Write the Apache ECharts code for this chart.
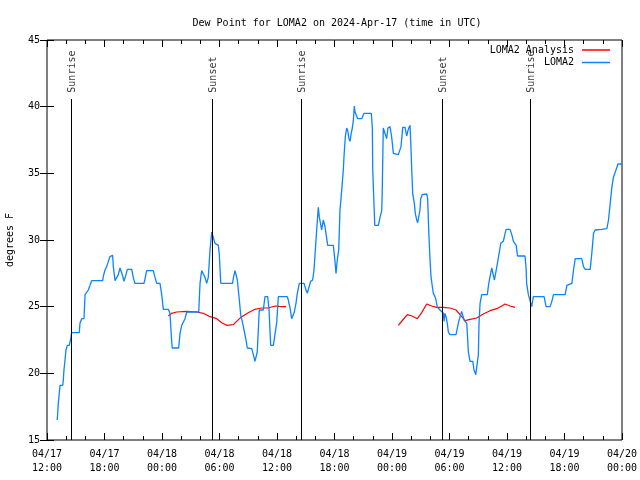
<!DOCTYPE html>
<html>
<head>
<meta charset="utf-8">
<script src="https://cdn.jsdelivr.net/npm/echarts@6/dist/echarts.min.js"></script>
<style>html,body{margin:0;padding:0;background:#fff;}#c{width:640px;height:480px;}</style>
</head>
<body>
<div id="c"></div>
<script>
// Hours since 04/17 12:00 UTC
var xTickLabels = ['04/17\n12:00','04/17\n18:00','04/18\n00:00','04/18\n06:00','04/18\n12:00','04/18\n18:00','04/19\n00:00','04/19\n06:00','04/19\n12:00','04/19\n18:00','04/20\n00:00'];

var lomaTimes = [1.07,1.18,1.36,1.64,1.70,1.77,1.88,1.98,2.12,2.33,2.47,2.58,3.37,3.44,3.62,3.86,3.97,4.14,4.31,4.49,4.66,5.81,5.87,6.05,6.23,6.40,6.57,6.65,6.85,6.92,7.10,7.27,7.44,7.62,7.79,7.90,8.03,8.24,8.38,8.84,9.00,9.18,10.12,10.26,10.40,11.09,11.27,11.45,11.79,11.97,12.14,12.66,12.76,12.83,13.01,13.07,13.74,13.88,14.06,14.22,14.40,14.58,15.83,15.97,16.14,16.31,16.49,16.66,16.83,17.01,17.19,17.35,17.53,17.88,17.98,18.13,19.36,19.46,19.62,19.79,19.86,20.07,20.21,20.42,20.56,20.77,20.90,21.36,21.53,21.70,21.88,21.94,22.05,22.15,22.57,22.75,23.03,23.17,23.34,23.62,23.79,23.97,24.14,25.07,25.18,25.36,25.53,25.64,25.81,25.98,26.12,26.33,26.82,27.03,27.16,27.31,27.51,27.72,27.86,28.00,28.14,28.31,28.41,28.66,28.83,29.01,29.11,29.29,29.88,30.05,30.16,30.29,30.44,30.57,30.68,30.86,30.92,30.99,31.13,31.27,31.38,31.51,31.62,31.72,31.86,31.97,32.07,32.14,32.25,32.42,32.84,33.08,33.84,33.95,33.99,34.13,34.20,34.58,34.75,34.93,34.99,35.09,35.27,35.44,35.58,35.79,35.97,36.14,36.66,36.83,36.94,37.12,37.36,37.53,37.70,37.88,37.95,38.06,38.16,38.33,38.43,38.58,38.68,38.85,38.92,38.99,39.16,39.62,39.72,39.83,39.97,40.07,40.21,40.31,40.49,40.59,40.73,41.01,41.19,41.36,41.43,41.53,41.64,41.77,41.88,42.05,42.68,42.92,43.10,43.27,43.38,43.52,43.62,43.80,43.97,44.14,44.43,44.56,44.74,44.91,45.01,45.08,45.19,45.36,45.95,46.05,46.16,46.30,46.41,46.58,46.69,46.86,47.00,47.20,47.35,47.62,47.80,47.91,48.32,48.50,48.67,48.96,49.10,49.88,49.99,50.05,50.23,50.40,50.58,50.75,51.87,52.08,52.50,52.68,52.85,54.07,54.25,54.42,54.77,54.94,55.12,55.80,55.98,56.16,56.68,56.85,57.03,57.20,57.90,58.42,58.59,58.77,58.95,59.12,59.30,59.58,60.00];
var lomaValues = [16.5,17.75,19.1,19.1,19.5,20.25,21,21.75,22.1,22.1,22.6,23.05,23.05,23.75,24.1,24.1,25.9,25.9,26.25,26.6,26.95,26.95,27.25,27.75,28,28.4,28.75,28.85,28.85,28.0,26.95,26.95,27.4,27.9,27.9,27.3,26.9,27.4,27.8,27.8,27.2,26.75,26.75,27.2,27.7,27.7,27.2,26.75,26.75,25.9,24.8,24.8,24.9,24.5,22.4,21.9,21.9,23.0,23.6,23.75,24.1,24.6,24.6,26.75,27.7,27.7,27.2,26.75,27.2,29.25,30.6,30.55,29.75,29.6,28.9,26.75,26.75,27.2,27.7,27.7,27.0,25.5,24.4,23.75,23.25,22.5,21.9,21.85,21.4,20.9,20.9,21.6,23.25,24.75,24.75,25.75,25.75,24.75,22.1,22.1,22.25,23.8,25.75,25.75,25.5,24.9,24.1,24.0,24.6,25.25,26.0,26.75,26.75,26.25,26.0,26.4,26.9,27.0,27.75,29.25,30.75,32.45,31.75,30.75,31.5,31.0,30.5,29.6,29.6,28.4,27.5,28.5,29.25,32.25,33.1,33.1,35.25,36.25,37.75,38.4,38.2,37.6,37.4,37.9,38.4,39.0,40.05,39.6,39.6,39.1,39.1,39.5,39.5,38.4,35.25,32.5,31.1,31.1,31.7,32.2,34.0,38.4,38.3,37.6,38.4,38.5,37.7,36.5,36.4,36.5,37.0,38.45,38.45,37.8,38.3,38.6,37.5,35.25,33.5,32.75,32.0,31.5,31.3,31.3,32.25,33.1,33.4,33.45,33.1,30.75,28.5,27.25,26.5,26.0,25.75,25.5,24.95,24.75,24.8,24.5,23.9,24.5,24.25,23.75,23.1,22.9,22.9,23.75,24.25,24.65,24.75,24.0,23.9,23.75,21.6,20.9,20.9,20.25,19.9,19.9,21.4,23.75,25.25,25.9,25.9,26.5,27.0,27.5,27.9,27.9,27.0,27.0,28.25,29.1,29.75,29.9,30.5,30.8,30.8,30.4,29.9,29.6,28.8,28.8,27.9,26.75,25.9,25.75,25.0,25.75,25.75,25.0,25.0,25.4,25.9,25.9,26.6,26.75,26.75,27.75,28.6,28.6,28.0,27.8,27.8,29.0,30.5,30.75,30.8,30.85,31.5,32.75,34.0,34.75,35.1,35.7,35.7];

// Analysis: two segments separated by a gap (null)
var analysisTimes = [12.66,13.01,13.53,14.58,15.62,16.31,17.01,17.71,18.23,18.75,19.44,19.79,20.32,21.00,21.70,22.40,23.09,23.79,24.49,24.94,30.0,36.66,37.12,37.60,38.09,38.64,39.10,39.62,40.14,40.66,41.35,42.05,42.68,43.10,43.62,44.14,44.84,45.53,46.24,46.93,47.45,47.80,48.32,48.83];
var analysisValues = [24.3,24.5,24.6,24.65,24.6,24.5,24.25,24.1,23.8,23.6,23.65,23.9,24.25,24.55,24.8,24.9,24.9,25.05,25.0,25.0,null,23.6,24.0,24.4,24.3,24.1,24.55,25.2,25.05,24.95,24.95,24.9,24.75,24.4,23.95,24.05,24.15,24.45,24.7,24.85,25.05,25.2,25.05,24.95];

var sunNames = ['Sunrise','Sunset','Sunrise','Sunset','Sunrise'];
var sunTimes = [2.5,17.25,26.5,41.25,50.44];
var sunLineTop = 40.575;
var sunLabelBase = 41.05;

var FONT = '"DejaVu Sans Mono", "Liberation Mono", monospace';

function zip(a, b){ return a.map(function(t,i){ return [t, b[i]]; }); }

var chart = echarts.init(document.getElementById('c'), null, {renderer:'canvas'});
var tickStyle = {show:true, inside:true, length:7, lineStyle:{color:'#000', width:1}};
var minorStyle = {show:true, splitNumber:3, length:4, lineStyle:{color:'#000', width:1}};
chart.setOption({
  animation:false,
  backgroundColor:'#fff',
  title:{text:'Dew Point for LOMA2 on 2024-Apr-17 (time in UTC)', left:332, top:13, textAlign:'center',
    textStyle:{fontFamily:FONT, fontSize:10, fontWeight:'normal', color:'#000'}},
  legend:{orient:'vertical', right:25, top:40, align:'right', icon:'rect', itemWidth:28, itemHeight:1.5, itemGap:2.5,
    textStyle:{fontFamily:FONT, fontSize:10, color:'#000', padding:[0,3,0,0]}, data:['LOMA2 Analysis','LOMA2']},
  grid:{left:47, right:18, top:40, bottom:40, show:true, borderColor:'#000', borderWidth:1, backgroundColor:'transparent',
    containLabel:false, outerBoundsMode:'none'},
  xAxis:[{type:'value', min:0, max:60, interval:6, position:'bottom',
      axisLine:{show:false}, axisTick:tickStyle, minorTick:minorStyle, splitLine:{show:false},
      axisLabel:{margin:7, fontFamily:FONT, fontSize:10, color:'#000', lineHeight:14, hideOverlap:false,
        showMinLabel:true, showMaxLabel:true,
        formatter:function(v){ return xTickLabels[Math.round(v/6)]; }}},
    {type:'value', min:0, max:60, interval:6, position:'top',
      axisLine:{show:false}, axisTick:tickStyle, minorTick:minorStyle, splitLine:{show:false}, axisLabel:{show:false}}],
  yAxis:[{type:'value', min:15, max:45, interval:5, position:'left', name:'degrees F', nameLocation:'middle', nameGap:32,
      nameTextStyle:{fontFamily:FONT, fontSize:10, color:'#000'},
      axisLine:{show:false}, axisTick:tickStyle, splitLine:{show:false},
      axisLabel:{margin:7, fontFamily:FONT, fontSize:10, color:'#000'}},
    {type:'value', min:15, max:45, interval:5, position:'right',
      axisLine:{show:false}, axisTick:tickStyle, splitLine:{show:false}, axisLabel:{show:false}}],
  series:[
    {name:'LOMA2 Analysis', type:'line', data:zip(analysisTimes, analysisValues), showSymbol:false, symbol:'none',
      connectNulls:false, color:'#ff0000', lineStyle:{color:'#ff0000', width:1.2}},
    {name:'LOMA2', type:'line', data:zip(lomaTimes, lomaValues), showSymbol:false, symbol:'none',
      color:'#0a84ff', lineStyle:{color:'#0a84ff', width:1.3}},
    {name:'sun', type:'scatter', symbolSize:0, silent:true,
      data:sunTimes.map(function(t,i){ return {value:[t, sunLabelBase], name:sunNames[i]}; }),
      label:{show:true, position:'inside', rotate:90, align:'left', verticalAlign:'middle', offset:[0,1],
        fontFamily:FONT, fontSize:10, color:'#000', formatter:function(p){ return p.name; }},
      markLine:{silent:true, symbol:['none','none'], label:{show:false},
        lineStyle:{color:'#000', type:'solid', width:1},
        data:sunTimes.map(function(t){ return [{coord:[t,15]},{coord:[t,sunLineTop]}]; })}}
  ]
});
</script>
</body>
</html>
